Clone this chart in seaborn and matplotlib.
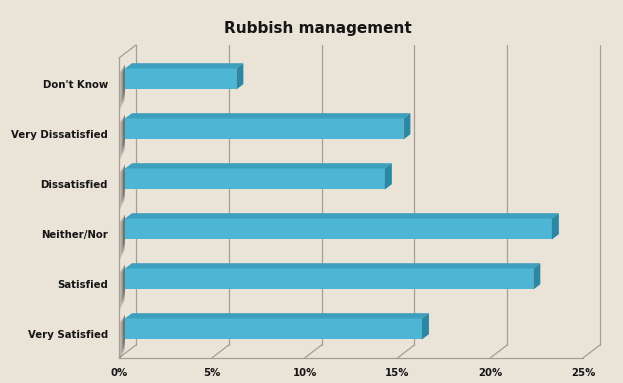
import matplotlib
matplotlib.use("Agg")
import numpy as np
import pandas as pd
import seaborn as sns
import matplotlib.pyplot as plt
from matplotlib.patches import Polygon
from matplotlib.transforms import ScaledTranslation

# Survey responses (share of respondents, %)
categories = ["Don't Know", "Very Dissatisfied", "Dissatisfied",
              "Neither/Nor", "Satisfied", "Very Satisfied"]
shares = [6, 15, 14, 23, 22, 16]
tick_values = [0, 5, 10, 15, 20, 25]
tick_labels = ["0%", "5%", "10%", "15%", "20%", "25%"]
title = "Rubbish management"

BG = "#e9e3d8"
FRONT = "#4db6d4"
TOP = "#3c9fbe"
SIDE = "#2b87a4"
GRID = "#a39e96"
TEXT = "#151515"

df = pd.DataFrame({"response": categories, "share": shares})

sns.set_theme(style="white")
plt.rcParams["font.family"] = ["DejaVu Sans"]

W, H = 623, 383
fig = plt.figure(figsize=(W / 100, H / 100), dpi=100, facecolor=BG)
ax = fig.add_axes([119 / W, 25 / H, 464 / W, 300 / H])
ax.set_facecolor("none")

sns.barplot(data=df, x="share", y="response", orient="h", color=FRONT,
            saturation=1, width=0.42, linewidth=0, ax=ax, zorder=4)

YBOT, YTOP = 5.488, -0.512
ax.set_xlim(0, 25)
ax.set_ylim(YBOT, YTOP)
ax.set_xlabel("")
ax.set_ylabel("")
for s in ax.spines.values():
    s.set_visible(False)

# pseudo-3D geometry in display pixels
WALL = np.array([17.0, 13.0])      # depth of the back wall
BAR_OFF = np.array([6.0, 4.6])     # bars sit a little behind the front plane
BAR_D = np.array([7.0, 5.3])       # thickness of each bar


def shifted(x, y, d):
    p = ax.transData.transform((x, y)) + d
    return ax.transData.inverted().transform(p)


def line(p, q, **kw):
    ax.plot([p[0], q[0]], [p[1], q[1]], color=GRID, lw=0.9,
            clip_on=False, zorder=1, **kw)


# back wall gridlines and floor diagonals
for t in tick_values:
    line(shifted(t, YBOT, WALL), shifted(t, YTOP, WALL))
    line((t, YBOT), shifted(t, YBOT, WALL))
# front floor edge and left wall outline
line((0, YBOT), (25, YBOT))
line((0, YBOT), (0, YTOP))
line((0, YTOP), shifted(0, YTOP, WALL))

offset = ScaledTranslation(BAR_OFF[0] / 100, BAR_OFF[1] / 100,
                           fig.dpi_scale_trans)
for patch in list(ax.patches):
    x0, y0 = patch.get_x(), patch.get_y()
    w, h = patch.get_width(), patch.get_height()
    patch.set_transform(ax.transData + offset)
    patch.set_clip_on(False)

    ftl = shifted(x0, y0, BAR_OFF)
    ftr = shifted(x0 + w, y0, BAR_OFF)
    fbr = shifted(x0 + w, y0 + h, BAR_OFF)
    btl = shifted(x0, y0, BAR_OFF + BAR_D)
    btr = shifted(x0 + w, y0, BAR_OFF + BAR_D)
    bbr = shifted(x0 + w, y0 + h, BAR_OFF + BAR_D)
    ax.add_patch(Polygon([ftl, ftr, btr, btl], closed=True, fc=TOP,
                         ec="none", zorder=5, clip_on=False))
    ax.add_patch(Polygon([ftr, fbr, bbr, btr], closed=True, fc=SIDE,
                         ec="none", zorder=5, clip_on=False))

    # shadow cast on the left wall, darker close to the bar
    for a, grow, inset in [(0.22, 10, 1.0), (0.32, 5, 2.5), (0.4, 0, 4.0)]:
        pts = [shifted(x0, y0, np.array([inset, 1.0])),
               shifted(x0, y0, BAR_OFF + np.array([0.0, 4.0])),
               shifted(x0, y0 + h, BAR_OFF + np.array([0.0, -grow])),
               shifted(x0, y0 + h, np.array([inset, -grow - 5]))]
        ax.add_patch(Polygon(pts, closed=True, fc="#404040", ec="none",
                             alpha=a, zorder=2, clip_on=False))

ax.set_xticks(tick_values, tick_labels)
ax.tick_params(axis="x", length=0, pad=7.5, labelsize=7.3, colors=TEXT)
ax.tick_params(axis="y", length=0, pad=8, labelsize=7.3, colors=TEXT)
for lbl in ax.get_xticklabels() + ax.get_yticklabels():
    lbl.set_fontweight("bold")

fig.text(0.51, 1 - 28 / H, title, ha="center", va="center",
         fontsize=11, fontweight="bold", color=TEXT)

fig.savefig("out.png", dpi=100, facecolor=BG)
